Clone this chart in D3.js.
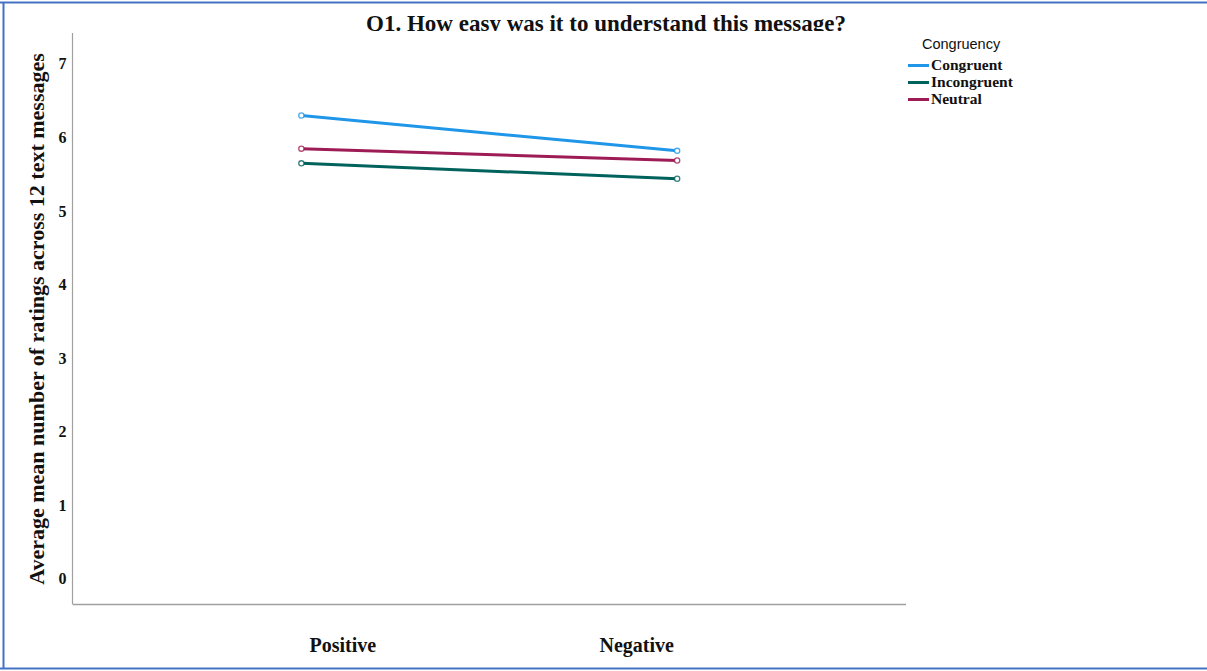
<!DOCTYPE html>
<html>
<head>
<meta charset="utf-8">
<script src="https://cdn.jsdelivr.net/npm/d3@7/dist/d3.min.js"></script>
<style>
  html, body { margin: 0; padding: 0; background: #fff; }
  svg { display: block; }
</style>
</head>
<body>
<script>
// Mean ratings by message valence and congruency condition
const categories = ["Positive", "Negative"];
const seriesNames = ["Congruent", "Incongruent", "Neutral"];
const congruentValues = [6.29, 5.81];
const incongruentValues = [5.64, 5.43];
const neutralValues = [5.84, 5.68];
const yTicks = [0, 1, 2, 3, 4, 5, 6, 7];
const seriesColors = ["#1f96e8", "#00625c", "#9e1c56"];

const W = 1207, H = 671;
const svg = d3.select("body").append("svg").attr("width", W).attr("height", H);

// Frame around the figure
svg.append("line").attr("x1", 0).attr("x2", W).attr("y1", 2.5).attr("y2", 2.5)
  .attr("stroke", "#4472c4").attr("stroke-width", 2);
svg.append("line").attr("x1", 0).attr("x2", W).attr("y1", 668.5).attr("y2", 668.5)
  .attr("stroke", "#4472c4").attr("stroke-width", 2);
svg.append("line").attr("x1", 3.5).attr("x2", 3.5).attr("y1", 2).attr("y2", 669)
  .attr("stroke", "#4472c4").attr("stroke-width", 2);

const plot = { left: 72.5, right: 906, top: 33, bottom: 604 };

const y = d3.scaleLinear().domain([-0.349, 7.412]).range([plot.bottom, plot.top]);
// Point positions of the two categories
const xPts = d3.scalePoint().domain(categories).range([plot.left, plot.right]).padding(0.609);
// Category label positions below the axis
const xLab = d3.scalePoint().domain(categories).range([plot.left, plot.right]).padding(0.918);

// Axes lines
svg.append("line").attr("x1", plot.left).attr("x2", plot.left)
  .attr("y1", plot.top).attr("y2", plot.bottom)
  .attr("stroke", "#a0a0a0").attr("stroke-width", 1.2);
svg.append("line").attr("x1", plot.left).attr("x2", plot.right)
  .attr("y1", plot.bottom + 0.5).attr("y2", plot.bottom + 0.5)
  .attr("stroke", "#a0a0a0").attr("stroke-width", 1.5);

// Y tick labels
const yAxis = d3.axisLeft(y).tickValues(yTicks).tickSize(0).tickPadding(0).tickFormat(d3.format("d"));
const gy = svg.append("g").attr("transform", `translate(${plot.left - 6},0)`).call(yAxis);
gy.select(".domain").remove();
gy.selectAll("text")
  .attr("font-family", "'Liberation Serif', 'Times New Roman', serif")
  .attr("font-weight", "bold").attr("font-size", 16).attr("fill", "#111")
  .attr("dy", "0.35em");

// X category labels
const xAxis = d3.axisBottom(xLab).tickSize(0).tickPadding(0);
const gx = svg.append("g").attr("transform", `translate(0,${plot.bottom})`).call(xAxis);
gx.select(".domain").remove();
gx.selectAll("text")
  .attr("font-family", "'Liberation Serif', 'Times New Roman', serif")
  .attr("font-weight", "bold").attr("font-size", 20).attr("fill", "#111")
  .attr("y", 48).attr("dy", "0");

// Series lines and markers
const series = [
  { name: seriesNames[0], values: congruentValues, color: seriesColors[0] },
  { name: seriesNames[1], values: incongruentValues, color: seriesColors[1] },
  { name: seriesNames[2], values: neutralValues, color: seriesColors[2] }
];
const line = d3.line().x((d, i) => xPts(categories[i])).y(d => y(d));

const gs = svg.append("g");
series.forEach(s => {
  gs.append("path").datum(s.values).attr("d", line)
    .attr("fill", "none").attr("stroke", s.color).attr("stroke-width", 3);
});
series.forEach(s => {
  gs.selectAll(null).data(s.values).enter().append("circle")
    .attr("cx", (d, i) => xPts(categories[i])).attr("cy", d => y(d)).attr("r", 2.6)
    .attr("fill", "#fff").attr("stroke", s.color).attr("stroke-width", 1.3)
    .attr("stroke-opacity", 0.8);
});

// Title, clipped at the top of the plot region
svg.append("clipPath").attr("id", "titleClip")
  .append("rect").attr("x", 0).attr("y", 0).attr("width", W).attr("height", 31);
svg.append("text").attr("clip-path", "url(#titleClip)")
  .attr("x", 606).attr("y", 31)
  .attr("text-anchor", "middle")
  .attr("font-family", "'Liberation Serif', 'Times New Roman', serif")
  .attr("font-weight", "bold").attr("font-size", 23).attr("fill", "#111")
  .text("Q1. How easy was it to understand this message?");

// Y axis title
svg.append("text")
  .attr("transform", "translate(44,319) rotate(-90)")
  .attr("text-anchor", "middle")
  .attr("font-family", "'Liberation Serif', 'Times New Roman', serif")
  .attr("font-weight", "bold").attr("font-size", 22).attr("fill", "#111")
  .text("Average mean number of ratings across 12 text messages");

// Legend
const legend = svg.append("g");
legend.append("text").attr("x", 922).attr("y", 49)
  .attr("font-family", "'Liberation Sans', Arial, sans-serif")
  .attr("font-size", 14.5).attr("fill", "#111").text("Congruency");
series.forEach((s, i) => {
  const ly = 65.5 + i * 17;
  legend.append("line").attr("x1", 908).attr("x2", 929).attr("y1", ly).attr("y2", ly)
    .attr("stroke", s.color).attr("stroke-width", 3);
  legend.append("text").attr("x", 931).attr("y", ly + 4.5)
    .attr("font-family", "'Liberation Serif', 'Times New Roman', serif")
    .attr("font-weight", "bold").attr("font-size", 15.5).attr("fill", "#111")
    .text(s.name);
});
</script>
</body>
</html>
